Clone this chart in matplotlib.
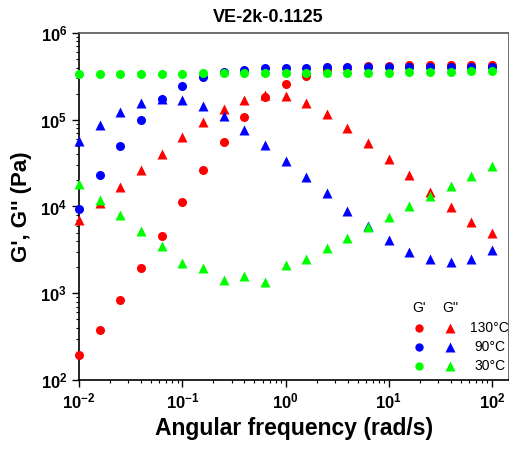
import numpy as np
import matplotlib
matplotlib.use("Agg")
import matplotlib.pyplot as plt
from matplotlib.ticker import LogLocator, NullFormatter

plt.rcParams['font.family'] = ['Liberation Sans', 'DejaVu Sans']
plt.rcParams['mathtext.fontset'] = 'custom'
plt.rcParams['mathtext.rm'] = 'Liberation Sans:bold'
plt.rcParams['mathtext.bf'] = 'Liberation Sans:bold'

# frequency sweep, 5 points per decade
freq = [0.01, 0.0158, 0.0251, 0.0398, 0.0631, 0.1, 0.158, 0.251, 0.398, 0.631,
        1.0, 1.58, 2.51, 3.98, 6.31, 10.0, 15.8, 25.1, 39.8, 63.1, 100.0]

# storage modulus G' (Pa)
gp_130 = [192, 373, 836, 1950, 4610, 11400, 26400, 55500, 109000, 184000,
          261000, 322000, 370000, 395000, 415000, 422000, 425000, 428000, 428000, 430000, 430000]
gp_90 = [9400, 22900, 50200, 99400, 173000, 247000, 308000, 355000, 378000, 392000,
         398000, 400000, 402000, 403000, 404000, 405000, 405000, 406000, 406000, 408000, 410000]
gp_30 = [340000, 340000, 340000, 340000, 340000, 340000, 342000, 342000, 344000, 345000,
         346000, 347000, 348000, 348000, 349000, 350000, 352000, 354000, 356000, 360000, 365000]

# loss modulus G'' (Pa)
gpp_130 = [6920, 10960, 16800, 26100, 40700, 62700, 94200, 133000, 170000, 195000,
           186000, 155000, 115000, 80400, 53900, 35300, 23100, 14800, 9770, 6620, 4950]
gpp_90 = [56400, 86900, 123000, 156000, 173000, 170000, 145000, 111000, 76900, 51200,
          33800, 21700, 14300, 8960, 5910, 4070, 2990, 2480, 2310, 2500, 3180]
gpp_30 = [18300, 12000, 7910, 5260, 3510, 2210, 1970, 1440, 1600, 1340,
          2120, 2480, 3350, 4290, 5800, 7570, 10000, 13300, 17400, 22300, 29000]

temps = ['130°C', '90°C', '30°C']
colors = ['#ff0000', '#0000ff', '#00ff00']

fig = plt.figure(figsize=(5.10, 4.49), dpi=100)
ax = fig.add_axes([0.155, 0.1537, 0.843, 0.7728])

ms = 6.5
for g1, c in zip([gp_130, gp_90, gp_30], colors):
    ax.plot(freq, g1, 'o', color=c, ms=ms, mec='none', clip_on=False, zorder=3)
for g2, c in zip([gpp_130, gpp_90, gpp_30], colors):
    ax.plot(freq, g2, '^', color=c, ms=ms + 0.5, mec='none', clip_on=False, zorder=3)

ax.set_xscale('log')
ax.set_yscale('log')
ax.set_xlim(0.01, 146)
ax.set_ylim(100, 1e6)

ax.xaxis.set_major_locator(LogLocator(base=10, numticks=10))
ax.xaxis.set_minor_locator(LogLocator(base=10, subs=np.arange(2, 10), numticks=20))
ax.xaxis.set_minor_formatter(NullFormatter())
ax.yaxis.set_major_locator(LogLocator(base=10, numticks=10))
ax.yaxis.set_minor_locator(LogLocator(base=10, subs=np.arange(2, 10), numticks=20))
ax.yaxis.set_minor_formatter(NullFormatter())

ax.tick_params(which='major', direction='out', length=5, width=1.0, labelsize=12)
ax.tick_params(which='minor', direction='out', length=2.5, width=0.8)
for lab in ax.get_xticklabels() + ax.get_yticklabels():
    lab.set_fontweight('bold')

ax.spines['left'].set_linewidth(1.2)
ax.spines['bottom'].set_linewidth(1.2)
ax.spines['top'].set_color('#555555')
ax.spines['right'].set_color('#555555')
ax.spines['top'].set_linewidth(1.2)
ax.spines['right'].set_linewidth(1.2)

ax.set_xlabel('Angular frequency (rad/s)', fontsize=16.5, fontweight='bold', labelpad=4)
ax.set_ylabel("G', G'' (Pa)", fontsize=16, fontweight='bold', labelpad=6)
fig.text(268 / 510, 1 - 18 / 449, 'VE-2k-0.1125', ha='center', va='center',
         fontsize=13, fontweight='bold')

# legend: G' circles, G'' triangles, one row per temperature
lx1, lx2, lx3 = 0.790, 0.863, 0.955
ax.text(lx1, 0.207, "G'", transform=ax.transAxes, ha='center', va='center', fontsize=10)
ax.text(lx2, 0.207, "G''", transform=ax.transAxes, ha='center', va='center', fontsize=10)
for i, (t, c) in enumerate(zip(temps, colors)):
    yy = 0.150 - i * 0.055
    ax.plot([lx1], [yy], 'o', color=c, ms=6, mec='none', transform=ax.transAxes, clip_on=False)
    ax.plot([lx2], [yy], '^', color=c, ms=6.5, mec='none', transform=ax.transAxes, clip_on=False)
    ax.text(lx3, yy, t, transform=ax.transAxes, ha='center', va='center', fontsize=10)

fig.savefig('out.png', dpi=100)
